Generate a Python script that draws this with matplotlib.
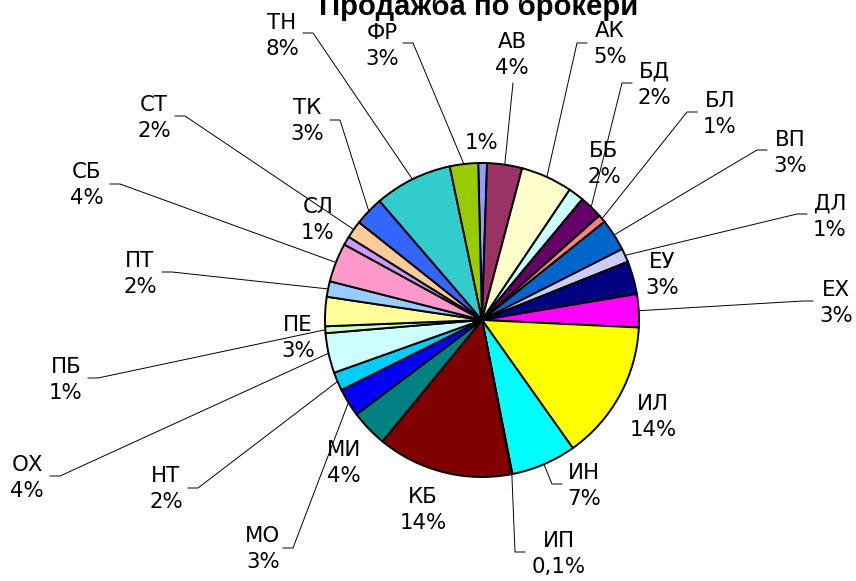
import numpy as np
import matplotlib
matplotlib.use("Agg")
import matplotlib.pyplot as plt
from matplotlib.patches import Rectangle

# broker codes and their share of sales (%), clockwise from the top
brokers = ["", "АВ", "АК", "ББ", "БД", "БЛ", "ВП", "ДЛ", "ЕУ", "ЕХ",
           "ИЛ", "ИН", "ИП", "КБ", "МИ", "МО", "НТ", "ОХ", "ПБ", "ПЕ",
           "ПТ", "СБ", "СЛ", "СТ", "ТК", "ТН", "ФР"]
shares = [0.9, 3.6, 5.3, 1.6, 2.4, 0.8, 3.3, 1.4, 3.4, 3.4,
          14.4, 6.7, 0.1, 13.9, 3.8, 2.9, 1.9, 4.1, 0.7, 3.0,
          1.6, 4.0, 0.9, 1.8, 3.0, 8.0, 2.9]

# old excel chart palette
colors = ["#9999FF", "#993366", "#FFFFCC", "#CCFFFF", "#660066", "#FF8080",
          "#0066CC", "#CCCCFF", "#000080", "#FF00FF", "#FFFF00", "#00FFFF",
          "#800080", "#800000", "#008080", "#0000FF", "#00CCFF", "#CCFFFF",
          "#CCFFCC", "#FFFF99", "#99CCFF", "#FF99CC", "#CC99FF", "#FFCC99",
          "#3366FF", "#33CCCC", "#99CC00"]

# where the labels sit (pixel coords) and where their leader line bends
label_pos = [(482, 143), (512, 55), (610, 44), (604, 164), (654, 85),
             (720, 114), (790, 153), (830, 217), (662, 275), (836, 303),
             (653, 417), (584, 486), (559, 554), (423, 510), (344, 463),
             (263, 549), (166, 489), (27, 478), (66, 380), (298, 338),
             (140, 274), (87, 185), (318, 220), (154, 118), (307, 121),
             (282, 36), (382, 46)]
elbows = [None, (513, 83), (577, 43), None, (622, 83),
          (687, 112), (757, 150), (797, 214), None, (803, 301),
          None, (552, 484), (515, 552), None, None,
          (293, 548), (198, 488), (60, 476), (98, 378), None,
          (172, 272), (120, 184), None, (185, 116), (340, 120),
          (313, 33), (413, 43)]

cx, cy, r = 482, 320, 157

fig = plt.figure(figsize=(8.56, 5.81), dpi=100)
ax = fig.add_axes([0, 0, 1, 1])

wedges, _ = ax.pie(shares, colors=colors, startangle=-91.4, counterclock=True,
                   center=(cx, cy), radius=r,
                   wedgeprops=dict(edgecolor="black", linewidth=1.4))

ax.set_xlim(0, 856)
ax.set_ylim(581, 0)
ax.set_aspect("equal")
ax.axis("off")

for i, w in enumerate(wedges):
    if brokers[i]:
        pct = shares[i]
        txt = f"{pct:.1f}".replace(".", ",") + "%" if pct < 0.5 else f"{pct:.0f}%"
        txt = brokers[i] + "\n" + txt
    else:
        txt = f"{shares[i]:.0f}%"
    lx, ly = label_pos[i]
    ax.text(lx, ly, txt, ha="center", va="center", fontsize=15.3,
            linespacing=1.36, family="DejaVu Sans")

    if elbows[i] is None:
        continue
    mid = np.deg2rad((w.theta1 + w.theta2) / 2)
    px, py = cx + r * np.cos(mid), cy + r * np.sin(mid)
    ex, ey = elbows[i]
    xs, ys = [px, ex], [py, ey]
    if abs(lx - ex) > 15:
        xs.append(ex + 10 * np.sign(lx - ex))
        ys.append(ey)
    ax.plot(xs, ys, color="black", linewidth=0.7, zorder=0.5)

# title is cut off at the top in the original, only the lower part shows
title = ax.text(479, 15, "Продажба по брокери", ha="center", va="baseline",
                fontsize=20, fontweight="bold", family="Liberation Sans")
fig.canvas.draw()
w_now = title.get_window_extent().width
title.set_fontsize(20 * 318 / w_now)
title.set_clip_path(Rectangle((0, 0), 856, 15.5, transform=ax.transData))

fig.savefig("out.png", dpi=100)
